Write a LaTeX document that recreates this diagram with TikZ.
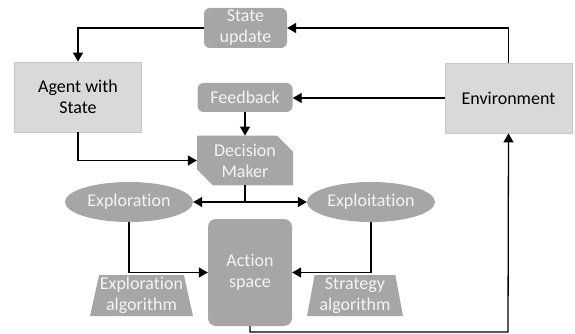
\documentclass[tikz,border=0pt]{standalone}
\usepackage{fontspec}
\setmainfont[RawFeature={-liga;-clig;-dlig}]{Carlito}
\usetikzlibrary{arrows.meta,shapes.geometric,shapes.misc}
\definecolor{darkbox}{HTML}{A6A6A6}
\definecolor{lightbox}{HTML}{D9D9D9}
\definecolor{lightedge}{HTML}{C8C8C8}
\definecolor{boxtext}{HTML}{F4F4F4}
\begin{document}
\begin{tikzpicture}[x=1pt,y=-1pt,
  every node/.style={font=\fontsize{18}{21}\selectfont, align=center, inner sep=0pt},
  lbox/.style={rectangle, fill=lightbox, draw=lightedge, line width=0.8pt, text=black},
  rbox/.style={rectangle, rounded corners=6pt, fill=darkbox, text=boxtext},
  ebox/.style={ellipse, fill=darkbox, text=boxtext},
  tbox/.style={trapezium, trapezium stretches body, fill=darkbox, text=boxtext},
  conn/.style={line width=1.3pt, -{Triangle[length=9pt,width=10pt]}},
  bconn/.style={line width=1.3pt, {Triangle[length=9pt,width=10pt]}-{Triangle[length=9pt,width=10pt]}},
  plain/.style={line width=1.3pt}
]
\useasboundingbox (0,0) rectangle (575,334);
\node[rbox, minimum width=83pt, minimum height=40pt] (su) at (245.5,28) {State\\update};
\node[lbox, minimum width=127pt, minimum height=70pt] (agent) at (78,97) {Agent with\\State};
\node[rbox, minimum width=95pt, minimum height=29pt] (fb) at (245,97.5) {Feedback};
\node[chamfered rectangle, chamfered rectangle corners={north east,south west}, chamfered rectangle xsep=8pt, chamfered rectangle ysep=8pt, fill=darkbox, text=boxtext, minimum width=96pt, minimum height=40pt] (dm) at (245,160.5) {Decision\\Maker};
\node[lbox, minimum width=127pt, minimum height=70pt] (env) at (508.5,98) {Environment};
\node[ebox, minimum width=128pt, minimum height=40pt] (explo) at (129,202) {Exploration};
\node[ebox, minimum width=128pt, minimum height=40pt] (exploit) at (371,202) {Exploitation};
\node[rbox, rounded corners=8pt, minimum width=84pt, minimum height=107pt] (act) at (250,272.5) {Action\\space};
\node[tbox, trapezium left angle=76, trapezium right angle=76, minimum width=103pt, minimum height=41pt] (ealg) at (141.5,295.5) {Exploration\\algorithm};
\node[tbox, trapezium left angle=78, trapezium right angle=78, minimum width=96pt, minimum height=41pt] (salg) at (355,295.5) {Strategy\\algorithm};
\coordinate (split) at (dm.south |- explo.east);
\coordinate (bot) at (508,332);
\draw[conn] (env.north) |- (su.east);
\draw[conn] (su.west) -| (agent.north);
\draw[conn] (env.west) -- (env.west -| fb.east);
\draw[conn] (fb.south) -- (dm.north);
\draw[conn] (agent.south) |- (dm.west);
\draw[plain] (dm.south) -- (split);
\draw[bconn] (explo.east) -- (exploit.west);
\draw[conn] (explo.south) |- (act.west);
\draw[conn] (exploit.south) |- (act.east);
\draw[conn] (act.south) |- (bot) -- (env.south);
\end{tikzpicture}
\end{document}
